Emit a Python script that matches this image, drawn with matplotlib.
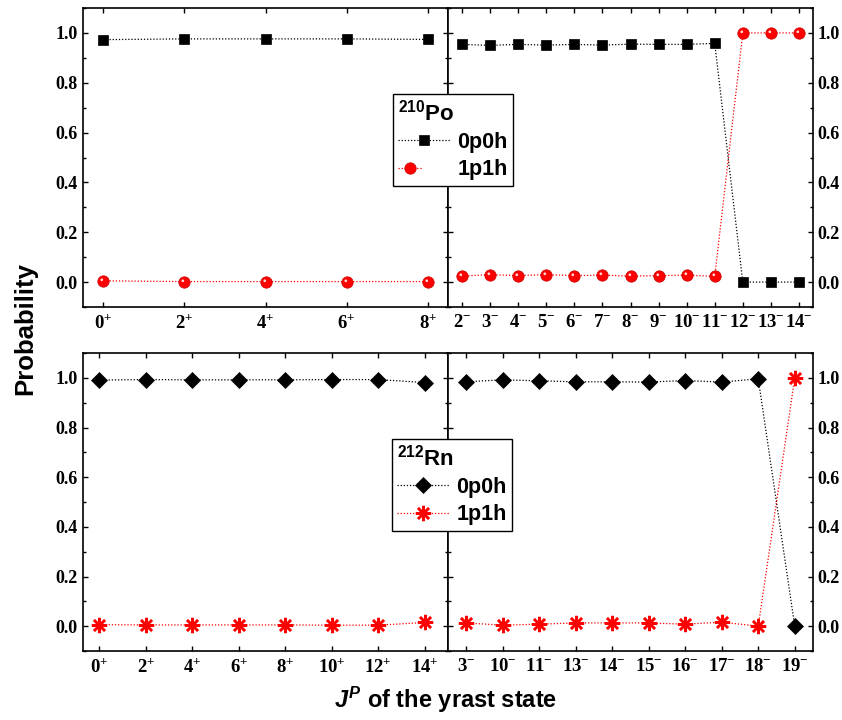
import matplotlib
matplotlib.use("Agg")
import matplotlib.pyplot as plt
from matplotlib.path import Path
from matplotlib.markers import MarkerStyle
from matplotlib.legend_handler import HandlerTuple
from matplotlib.ticker import MultipleLocator

# ----------------------------
# Datos
# ----------------------------
po_pos_labels = ["0^{+}", "2^{+}", "4^{+}", "6^{+}", "8^{+}"]
po_pos_0p0h = [0.973, 0.976, 0.976, 0.976, 0.974]
po_pos_1p1h = [0.005, 0.002, 0.002, 0.002, 0.002]

po_neg_labels = ["2^{-}", "3^{-}", "4^{-}", "5^{-}", "6^{-}", "7^{-}", "8^{-}",
                 "9^{-}", "10^{-}", "11^{-}", "12^{-}", "13^{-}", "14^{-}"]
po_neg_0p0h = [0.954, 0.950, 0.954, 0.951, 0.954, 0.951, 0.955, 0.954, 0.954,
               0.958, 0.0, 0.0, 0.0]
po_neg_1p1h = [0.024, 0.030, 0.026, 0.030, 0.026, 0.028, 0.024, 0.026, 0.028,
               0.023, 1.0, 1.0, 1.0]

rn_pos_labels = ["0^{+}", "2^{+}", "4^{+}", "6^{+}", "8^{+}", "10^{+}",
                 "12^{+}", "14^{+}"]
rn_pos_0p0h = [0.991, 0.993, 0.992, 0.992, 0.992, 0.993, 0.993, 0.981]
rn_pos_1p1h = [0.006, 0.005, 0.005, 0.005, 0.005, 0.004, 0.004, 0.015]

rn_neg_labels = ["3^{-}", "10^{-}", "11^{-}", "13^{-}", "14^{-}", "15^{-}",
                 "16^{-}", "17^{-}", "18^{-}", "19^{-}"]
rn_neg_0p0h = [0.984, 0.992, 0.988, 0.984, 0.984, 0.983, 0.989, 0.983, 0.996, 0.0]
rn_neg_1p1h = [0.013, 0.004, 0.008, 0.013, 0.013, 0.013, 0.008, 0.016, 0.0, 1.0]

# ----------------------------
# Estilo
# ----------------------------
plt.rcParams["font.family"] = ["Liberation Sans", "DejaVu Sans"]
plt.rcParams["mathtext.fontset"] = "custom"
plt.rcParams["mathtext.rm"] = "Liberation Serif"
plt.rcParams["mathtext.bf"] = "Liberation Serif:bold"
plt.rcParams["mathtext.sf"] = "Liberation Sans:bold"
plt.rcParams["mathtext.it"] = "Liberation Sans:italic:bold"

DOT = (0, (1.0, 1.5))
RED = "#ff0000"
XTICK_SIZE = 13.5
YTICK_SIZE = 13

# brillo de la esfera roja (circulo pequeño desplazado arriba-izquierda)
_c = Path.unit_circle()
_hl = Path(_c.vertices * 0.12 + [-0.15, 0.15], _c.codes)
_dummy = Path([(0.5, 0.5), (0.5, 0.5)], [Path.MOVETO, Path.MOVETO])
HIGHLIGHT = MarkerStyle(Path.make_compound_path(_dummy, _hl))

fig = plt.figure(figsize=(8.42, 7.2), dpi=100)

W = 365 / 842
H_TOP = 299 / 720
H_BOT = 298 / 720
ax_tl = fig.add_axes([83 / 842, 1 - 307 / 720, W, H_TOP])
ax_tr = fig.add_axes([448 / 842, 1 - 307 / 720, W, H_TOP])
ax_bl = fig.add_axes([83 / 842, 1 - 651 / 720, W, H_BOT])
ax_br = fig.add_axes([448 / 842, 1 - 651 / 720, W, H_BOT])


def estilo_ejes(ax, labels, xlim, lado):
    ax.set_ylim(-0.1, 1.1)
    ax.set_xlim(*xlim)
    ax.set_xticks(range(len(labels)))
    ax.set_xticklabels([r"$\mathbf{%s}$" % s for s in labels])
    ax.yaxis.set_major_locator(MultipleLocator(0.2))
    ax.yaxis.set_minor_locator(MultipleLocator(0.1))
    ax.tick_params(which="both", direction="in", top=True, right=True,
                   left=True, bottom=True, width=1.0)
    ax.tick_params(which="major", length=3.5)
    ax.tick_params(which="minor", length=2.0)
    ax.tick_params(axis="x", which="minor", top=False, bottom=False)
    ax.tick_params(axis="x", labelsize=XTICK_SIZE, pad=5)
    ax.tick_params(axis="y", labelsize=YTICK_SIZE, pad=4)
    if lado == "right":
        ax.tick_params(axis="y", labelleft=False, labelright=True, pad=3.5)
    for lab in ax.get_yticklabels():
        lab.set_fontfamily("Liberation Serif")
        lab.set_fontweight("bold")
    for sp in ax.spines.values():
        sp.set_linewidth(1.2)


def pinta_po(ax, vals0, vals1):
    x = range(len(vals0))
    l0, = ax.plot(x, vals0, color="black", ls=DOT, lw=0.9, marker="s",
                  ms=7.6, mfc="black", mec="black", mew=0.5)
    l1, = ax.plot(x, vals1, color=RED, ls=DOT, lw=0.9, marker="o",
                  ms=8.2, mfc=RED, mec="#c80000", mew=0.5)
    h1, = ax.plot(x, vals1, ls="none", marker=HIGHLIGHT, ms=8.2,
                  mfc="white", mec="none", alpha=0.85)
    return l0, (l1, h1)


def pinta_rn(ax, vals0, vals1):
    x = range(len(vals0))
    l0, = ax.plot(x, vals0, color="black", ls=DOT, lw=0.9, marker="D",
                  ms=7.8, mfc="black", mec="black", mew=0.5)
    l1, = ax.plot(x, vals1, color=RED, ls=DOT, lw=0.9, marker=(8, 2, 0),
                  ms=11, mec=RED, mew=1.8)
    return l0, l1


h_po0, h_po1 = pinta_po(ax_tl, po_pos_0p0h, po_pos_1p1h)
pinta_po(ax_tr, po_neg_0p0h, po_neg_1p1h)
h_rn0, h_rn1 = pinta_rn(ax_bl, rn_pos_0p0h, rn_pos_1p1h)
pinta_rn(ax_br, rn_neg_0p0h, rn_neg_1p1h)

estilo_ejes(ax_tl, po_pos_labels, (-0.25, 4.25), "left")
estilo_ejes(ax_tr, po_neg_labels, (-0.5, 12.5), "right")
estilo_ejes(ax_bl, rn_pos_labels, (-0.35, 7.5), "left")
estilo_ejes(ax_br, rn_neg_labels, (-0.5, 9.5), "right")


def leyenda(handles, titulo, x_px, y_px):
    leg = fig.legend(handles, ["0p0h", "1p1h"], loc="upper left",
                     bbox_to_anchor=(x_px / 842, 1 - y_px / 720),
                     borderaxespad=0, fancybox=False, framealpha=1,
                     edgecolor="black", title=titulo, alignment="left",
                     prop={"weight": "bold", "size": 15.5},
                     title_fontproperties={"size": 16},
                     handlelength=2.4, handletextpad=0.33, labelspacing=0.3,
                     borderpad=0.25,
                     handler_map={tuple: HandlerTuple(ndivide=None)})
    leg.get_frame().set_linewidth(1.0)
    return leg


leyenda([h_po0, h_po1], r"$\mathsf{{}^{210}Po}$", 393, 94)
leyenda([h_rn0, h_rn1], r"$\mathsf{{}^{212}Rn}$", 392, 439)

fig.text(25 / 842, 1 - 329 / 720, "Probability", rotation=90, ha="center",
         va="center", fontsize=18.5, fontweight="bold")
fig.text(446 / 842, 1 - 700 / 720, r"$J^{P}$ of the yrast state",
         ha="center", va="center", fontsize=17, fontweight="bold")

fig.savefig("out.png", dpi=100)
